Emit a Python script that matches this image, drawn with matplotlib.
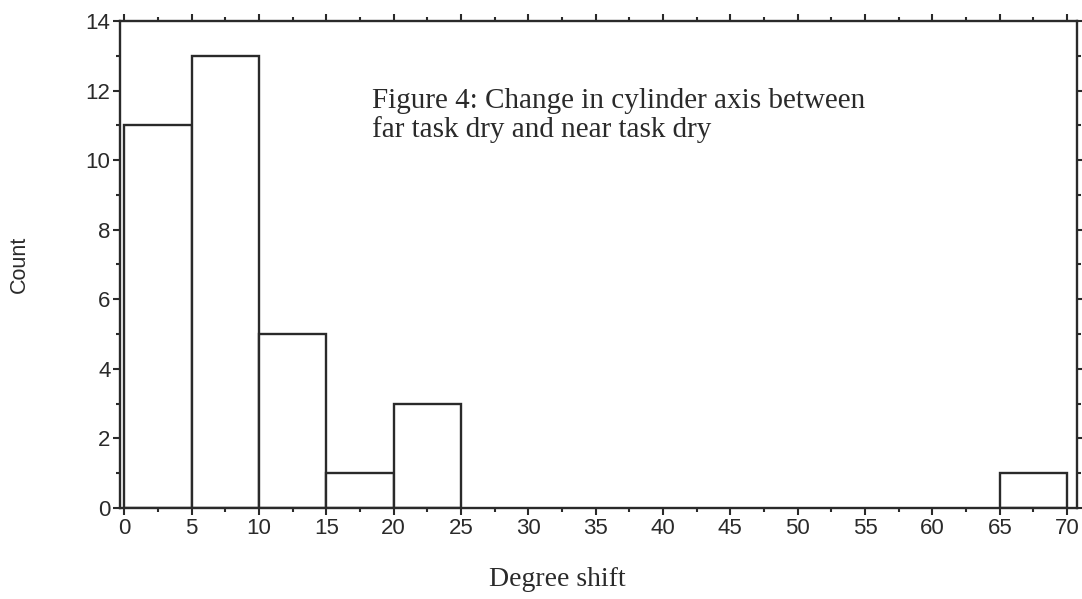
import matplotlib.pyplot as plt
from matplotlib.ticker import MultipleLocator

bin_lefts = [0, 5, 10, 15, 20, 65]
counts = [11, 13, 5, 1, 3, 1]
bin_width = 5

x_ticks = list(range(0, 75, 5))
y_ticks = list(range(0, 16, 2))

fig = plt.figure(figsize=(10.82, 5.99), dpi=100)
ax = fig.add_axes([0.111, 0.152, 0.884, 0.813])

ax.bar(bin_lefts, counts, width=bin_width, align="edge",
       facecolor="white", edgecolor="#2a2a2a", linewidth=1.7)

ax.set_xlim(-0.3, 70.7)
ax.set_ylim(0, 14)
ax.set_xticks(x_ticks)
ax.set_yticks(y_ticks)
ax.xaxis.set_minor_locator(MultipleLocator(2.5))
ax.yaxis.set_minor_locator(MultipleLocator(1))

for side in ax.spines.values():
    side.set_linewidth(1.7)
    side.set_color("#2a2a2a")

ax.tick_params(which="both", direction="out", top=True, right=True,
               color="#2a2a2a", width=1.5)
ax.tick_params(which="major", length=5, labelsize=16, pad=2)
ax.tick_params(which="minor", length=3)
for lab in ax.get_xticklabels() + ax.get_yticklabels():
    lab.set_family("Liberation Sans")
    lab.set_color("#2a2a2a")

ax.set_ylabel("Count", family="Liberation Sans", fontsize=15.5,
              color="#2a2a2a")
ax.yaxis.set_label_coords(-0.094, 0.5)
ax.set_xlabel("Degree shift", family="Liberation Serif", fontsize=20,
              color="#2a2a2a")
ax.xaxis.set_label_coords(0.457, -0.121)

ax.text(0.263, 0.863,
        "Figure 4: Change in cylinder axis between\nfar task dry and near task dry",
        transform=ax.transAxes, family="Liberation Serif", fontsize=21,
        color="#2a2a2a", va="top", ha="left", linespacing=1.1)

fig.savefig("out.png", dpi=100)
